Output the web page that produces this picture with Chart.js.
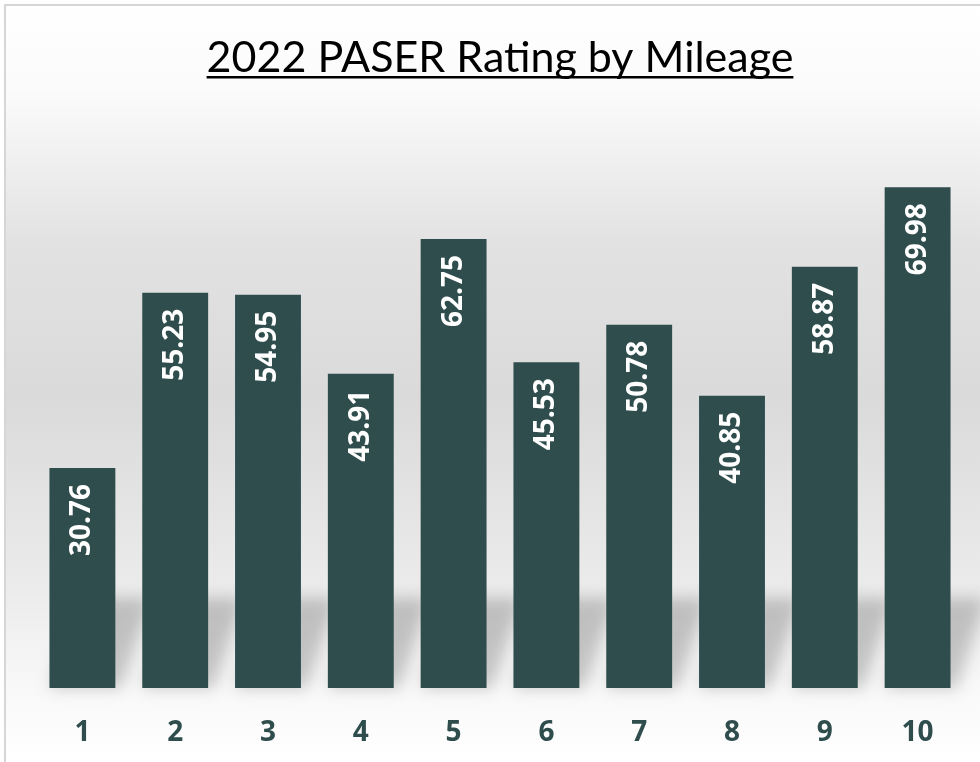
<!DOCTYPE html>
<html>
<head>
<meta charset="utf-8">
<script src="https://cdn.jsdelivr.net/npm/chart.js@4/dist/chart.umd.min.js"></script>
<style>
  html, body { margin: 0; padding: 0; background: #fff; }
  #wrap { position: relative; width: 980px; height: 762px; }
</style>
</head>
<body>
<div id="wrap"><canvas id="paserChart"></canvas></div>
<script>
const categories = ["1", "2", "3", "4", "5", "6", "7", "8", "9", "10"];
const ratings = [30.76, 55.23, 54.95, 43.91, 62.75, 45.53, 50.78, 40.85, 58.87, 69.98];
const barColor = "#2f4d4d";

// soft background + frame lines, like the office chart area
const backdrop = {
  id: "backdrop",
  beforeDraw(chart) {
    const { ctx, width, height } = chart;
    const g = ctx.createLinearGradient(0, 0, 0, height);
    g.addColorStop(0.0, "#ffffff");
    g.addColorStop(0.12, "#fbfbfb");
    g.addColorStop(0.32, "#e2e2e2");
    g.addColorStop(0.52, "#dadada");
    g.addColorStop(0.78, "#ececec");
    g.addColorStop(0.9, "#f8f8f8");
    g.addColorStop(1.0, "#ffffff");
    ctx.save();
    ctx.fillStyle = g;
    ctx.fillRect(5, 5, width - 5, height - 5);
    ctx.strokeStyle = "#d6d6d6";
    ctx.lineWidth = 2;
    ctx.beginPath();
    ctx.moveTo(5, height);
    ctx.lineTo(5, 5);
    ctx.lineTo(width, 5);
    ctx.stroke();
    ctx.restore();
  },
  beforeDatasetsDraw(chart) {
    // blurred slanted reflection behind each bar
    const { ctx } = chart;
    const meta = chart.getDatasetMeta(0);
    ctx.save();
    ctx.filter = "blur(8px)";
    ctx.fillStyle = "rgba(0,0,0,0.2)";
    meta.data.forEach((bar) => {
      const l = bar.x - bar.width / 2;
      const r = bar.x + bar.width / 2;
      const b = bar.base;
      ctx.beginPath();
      ctx.moveTo(l, b);
      ctx.lineTo(r + 6, b);
      ctx.lineTo(r + 36, b - 90);
      ctx.lineTo(l + 30, b - 90);
      ctx.closePath();
      ctx.fill();
    });
    ctx.restore();
  },
  afterDraw(chart) {
    // underline for the title
    const { ctx } = chart;
    const tb = chart.titleBlock;
    const opts = chart.options.plugins.title;
    ctx.save();
    ctx.font = `${opts.font.size}px ${opts.font.family}`;
    const w = ctx.measureText(opts.text).width;
    const cx = (tb.left + tb.right) / 2;
    const y = tb.top + opts.padding.top + opts.font.size * 1.2 / 2 + opts.font.size * 0.45;
    ctx.strokeStyle = "#000";
    ctx.lineWidth = 2.5;
    ctx.beginPath();
    ctx.moveTo(cx - w / 2, y);
    ctx.lineTo(cx + w / 2, y);
    ctx.stroke();
    ctx.restore();
  }
};

// value labels written up the inside of each bar
const barLabels = {
  id: "barLabels",
  afterDatasetsDraw(chart) {
    const { ctx } = chart;
    const meta = chart.getDatasetMeta(0);
    ctx.save();
    ctx.fillStyle = "#ffffff";
    ctx.font = "bold 28px 'Open Sans'";
    ctx.textAlign = "right";
    ctx.textBaseline = "middle";
    meta.data.forEach((bar, i) => {
      ctx.save();
      ctx.translate(bar.x, bar.y + 16);
      ctx.rotate(-Math.PI / 2);
      ctx.fillText(ratings[i].toFixed(2), 0, 0);
      ctx.restore();
    });
    ctx.restore();
  }
};

new Chart(document.getElementById("paserChart"), {
  type: "bar",
  data: {
    labels: categories,
    datasets: [
      {
        data: ratings,
        backgroundColor: barColor,
        borderWidth: 0,
        barPercentage: 0.71,
        categoryPercentage: 1.0,
      },
    ],
  },
  options: {
    responsive: true,
    maintainAspectRatio: false,
    animation: false,
    layout: { padding: { left: 36, right: 16, top: 0, bottom: 14 } },
    plugins: {
      legend: { display: false },
      tooltip: { enabled: false },
      title: {
        display: true,
        text: "2022 PASER Rating by Mileage",
        color: "#000",
        font: { family: "Lato", size: 43, weight: "normal" },
        padding: { top: 32, bottom: 32 },
      },
    },
    scales: {
      x: {
        grid: { display: false, drawTicks: false },
        border: { display: false },
        afterFit(scale) {
          scale.height = 60;
        },
        ticks: {
          color: barColor,
          padding: 28,
          font: { family: "Open Sans", size: 28, weight: "bold" },
        },
      },
      y: {
        display: false,
        min: 0,
        max: 80,
      },
    },
  },
  plugins: [backdrop, barLabels],
});
</script>
</body>
</html>
